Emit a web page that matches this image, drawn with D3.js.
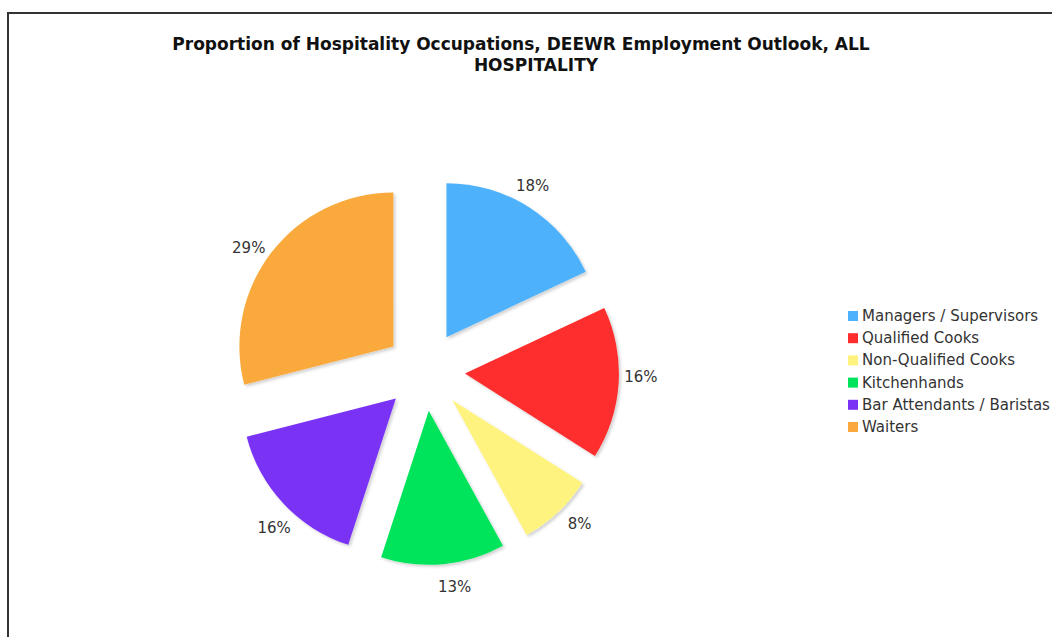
<!DOCTYPE html>
<html>
<head>
<meta charset="utf-8">
<script src="https://cdn.jsdelivr.net/npm/d3@7"></script>
<style>
  body { margin: 0; background: #fff; }
  svg { display: block; }
  text { font-family: "DejaVu Sans", Verdana, sans-serif; }
</style>
</head>
<body>
<div id="chart"></div>
<script>
// data
var categories = ["Managers / Supervisors", "Qualified Cooks", "Non-Qualified Cooks", "Kitchenhands", "Bar Attendants / Baristas", "Waiters"]
var values = [18, 16, 8, 13, 16, 29]
var colors = ["#4DB2FB", "#FF2D2D", "#FFF380", "#00E45C", "#7A33F5", "#FAAA3C"]
var titleLines = ["Proportion of Hospitality Occupations, DEEWR Employment Outlook, ALL", "HOSPITALITY"]

var width = 1052, height = 637
var cx = 425, cy = 371, r = 154
var explode = 40, labelR = 176
var labelShift = -2.5 * Math.PI / 180   // labels sit a bit anticlockwise of the slice middle

var svg = d3.select("#chart").append("svg")
    .attr("width", width)
    .attr("height", height)

var defs = svg.append("defs")
var f = defs.append("filter").attr("id", "shadow")
    .attr("x", "-20%").attr("y", "-20%").attr("width", "140%").attr("height", "140%")
f.append("feDropShadow").attr("dx", 2).attr("dy", 2).attr("stdDeviation", 1.5)
    .attr("flood-color", "#000").attr("flood-opacity", 0.18)

// frame (only top and left visible)
svg.append("path")
    .attr("d", "M8," + height + "L8,13L" + width + ",13")
    .attr("fill", "none")
    .attr("stroke", "#333")
    .attr("stroke-width", 2)

// title
svg.append("text")
    .attr("x", 521).attr("y", 50)
    .attr("text-anchor", "middle")
    .attr("font-size", 17).attr("font-weight", "bold").attr("fill", "#111")
    .text(titleLines[0])
svg.append("text")
    .attr("x", 536).attr("y", 71)
    .attr("text-anchor", "middle")
    .attr("font-size", 17).attr("font-weight", "bold").attr("fill", "#111")
    .text(titleLines[1])

var pie = d3.pie().sort(null).value(d => d)
var arcs = pie(values)
var arc = d3.arc().innerRadius(0).outerRadius(r)

var g = svg.append("g").attr("transform", "translate(" + cx + "," + cy + ")")

function mid(d) { return (d.startAngle + d.endAngle) / 2 }

g.selectAll(".slice")
    .data(arcs)
    .enter()
    .append("path")
    .attr("class", "slice")
    .attr("d", arc)
    .attr("fill", (d, i) => colors[i])
    .attr("filter", "url(#shadow)")
    .attr("transform", function (d) {
        var a = mid(d)
        return "translate(" + (Math.sin(a) * explode) + "," + (-Math.cos(a) * explode) + ")"
    })

// percent labels
g.selectAll(".lbl")
    .data(arcs)
    .enter()
    .append("text")
    .attr("class", "lbl")
    .attr("x", d => Math.sin(mid(d) + labelShift) * (explode + labelR))
    .attr("y", d => -Math.cos(mid(d) + labelShift) * (explode + labelR) + 2)
    .attr("text-anchor", "middle")
    .attr("dominant-baseline", "central")
    .attr("font-size", 15)
    .attr("fill", "#333")
    .text(d => d.data + "%")

// legend
var leg = svg.append("g").attr("transform", "translate(848,316)")
var item = leg.selectAll(".item")
    .data(categories)
    .enter()
    .append("g")
    .attr("transform", (d, i) => "translate(0," + i * 22.2 + ")")
item.append("rect")
    .attr("x", 0).attr("y", -5)
    .attr("width", 10).attr("height", 10)
    .attr("fill", (d, i) => colors[i])
item.append("text")
    .attr("x", 14).attr("y", 0)
    .attr("dominant-baseline", "central")
    .attr("font-size", 15)
    .attr("fill", "#333")
    .text(d => d)
</script>
</body>
</html>
